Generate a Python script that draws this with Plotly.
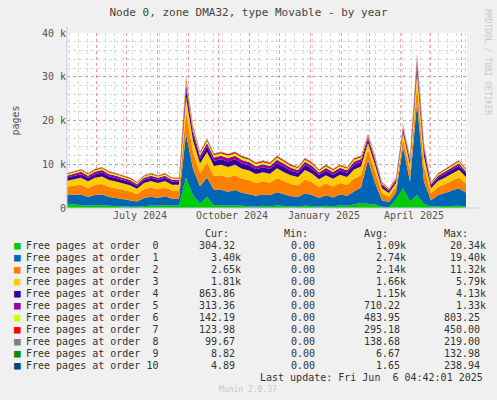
import plotly.graph_objects as go
import pandas as pd

dates = pd.date_range("2024-05-03", periods=58, freq="7D")

o0 = [1.0,0.8,0.6,0.5,0.7,0.6,0.5,0.5,0.4,0.3,0.3,0.5,0.6,0.5,0.7,0.5,0.6,7.0,3.0,1.0,2.5,0.6,0.7,0.5,0.6,0.5,0.4,0.3,0.5,0.4,0.6,0.5,0.4,0.3,0.6,0.5,0.3,0.5,0.4,0.6,0.5,0.8,1.2,1.0,0.8,0.3,0.2,2.0,4.5,1.5,3.0,1.0,0.3,0.4,0.4,0.5,0.5,0.3]
o1 = [2.0,2.2,2.5,2.0,2.3,2.5,2.0,1.8,1.6,1.5,1.2,1.8,2.0,1.8,2.0,1.6,1.5,10.0,6.0,4.0,4.5,3.5,3.5,3.2,3.5,3.0,2.8,2.5,2.6,2.5,3.0,2.6,2.3,2.2,2.8,2.5,2.0,2.4,2.0,2.5,2.3,3.0,3.5,10.0,5.0,1.5,1.2,1.5,9.5,4.5,21.0,5.0,1.5,2.5,3.0,3.5,4.0,3.2]
o2 = [1.9,2.1,2.2,2.1,2.3,2.4,2.3,2.2,2.1,2.0,1.7,2.0,2.1,2.0,2.0,1.9,1.9,5.0,3.8,3.0,3.4,3.2,3.3,3.3,3.4,3.2,3.2,2.9,3.0,2.9,3.2,3.0,2.8,2.7,3.1,2.9,2.5,2.7,2.5,2.6,2.5,2.9,2.8,2.3,2.4,1.6,1.2,1.3,1.9,2.3,4.2,3.4,1.6,1.9,2.1,2.3,2.5,2.1]
o3 = [1.35,1.5,1.6,1.5,1.6,1.7,1.6,1.55,1.5,1.4,1.2,1.4,1.45,1.4,1.45,1.3,1.3,3.5,2.7,2.2,2.4,2.3,2.4,2.4,2.4,2.3,2.2,2.1,2.1,2.05,2.3,2.1,2.0,1.9,2.2,2.0,1.8,1.9,1.8,1.9,1.8,2.1,2.0,1.6,1.7,1.1,0.85,0.95,1.35,1.6,3.0,2.4,1.1,1.4,1.5,1.6,1.75,1.5]
o4 = [0.7,0.77,0.83,0.77,0.84,0.9,0.84,0.8,0.77,0.73,0.63,0.73,0.76,0.73,0.74,0.69,0.69,1.8,1.4,1.1,1.25,1.2,1.23,1.23,1.25,1.2,1.16,1.08,1.1,1.06,1.18,1.1,1.02,0.98,1.13,1.05,0.94,1.0,0.92,0.97,0.94,1.08,1.02,0.84,0.87,0.59,0.43,0.49,0.7,0.84,1.5,1.26,0.59,0.71,0.78,0.84,0.91,0.77]
o5 = [0.45,0.5,0.53,0.5,0.54,0.58,0.54,0.51,0.5,0.47,0.4,0.47,0.49,0.47,0.48,0.44,0.44,1.17,0.9,0.72,0.81,0.76,0.79,0.79,0.8,0.77,0.75,0.69,0.71,0.68,0.76,0.71,0.66,0.63,0.73,0.68,0.6,0.64,0.59,0.62,0.6,0.69,0.66,0.54,0.56,0.38,0.28,0.32,0.45,0.54,0.99,0.81,0.38,0.46,0.5,0.54,0.59,0.5]
o6 = [0.3,0.33,0.35,0.33,0.36,0.38,0.36,0.34,0.33,0.31,0.27,0.31,0.32,0.31,0.32,0.29,0.29,0.78,0.6,0.48,0.54,0.5,0.53,0.53,0.53,0.51,0.5,0.46,0.47,0.46,0.5,0.47,0.44,0.42,0.49,0.45,0.4,0.43,0.4,0.41,0.4,0.46,0.44,0.36,0.37,0.25,0.19,0.21,0.3,0.36,0.66,0.54,0.25,0.31,0.34,0.36,0.39,0.33]
o7 = [0.18,0.19,0.21,0.19,0.21,0.22,0.21,0.2,0.19,0.18,0.16,0.18,0.19,0.18,0.19,0.17,0.17,0.45,0.35,0.28,0.32,0.29,0.31,0.31,0.31,0.3,0.29,0.27,0.28,0.27,0.29,0.28,0.26,0.25,0.28,0.26,0.23,0.25,0.23,0.24,0.23,0.27,0.26,0.21,0.22,0.15,0.11,0.12,0.18,0.21,0.39,0.32,0.15,0.18,0.2,0.21,0.23,0.19]
o8 = [0.08,0.09,0.1,0.09,0.1,0.1,0.1,0.09,0.09,0.08,0.07,0.08,0.09,0.08,0.09,0.08,0.08,0.2,0.16,0.13,0.15,0.14,0.14,0.14,0.15,0.14,0.14,0.13,0.13,0.12,0.14,0.13,0.12,0.12,0.13,0.12,0.11,0.12,0.11,0.11,0.11,0.13,0.12,0.1,0.1,0.07,0.05,0.06,0.08,0.1,0.18,0.15,0.07,0.09,0.09,0.1,0.11,0.1]
o9 = [0.01,0.0,0.01,0.0,0.01,0.0,0.0,0.01,0.0,0.0,0.0,0.01,0.0,0.0,0.01,0.0,0.0,0.13,0.03,0.01,0.02,0.01,0.0,0.01,0.0,0.01,0.0,0.0,0.01,0.0,0.01,0.0,0.0,0.0,0.01,0.0,0.0,0.01,0.0,0.0,0.0,0.01,0.01,0.02,0.01,0.0,0.0,0.01,0.03,0.01,0.05,0.01,0.0,0.0,0.01,0.01,0.01,0.01]
o10 = [0.0,0.0,0.0,0.0,0.0,0.0,0.0,0.0,0.0,0.0,0.0,0.0,0.0,0.0,0.0,0.0,0.0,0.05,0.01,0.0,0.01,0.0,0.0,0.0,0.0,0.0,0.0,0.0,0.0,0.0,0.0,0.0,0.0,0.0,0.0,0.0,0.0,0.0,0.0,0.0,0.0,0.0,0.0,0.01,0.0,0.0,0.0,0.0,0.02,0.0,0.24,0.01,0.0,0.0,0.0,0.0,0.01,0.0]

series = [o0, o1, o2, o3, o4, o5, o6, o7, o8, o9, o10]
colors = ["#00CC00", "#0066B3", "#FF8000", "#FFCC00", "#330099", "#990099",
          "#CCFF00", "#FF0000", "#808080", "#008F00", "#00487D"]
names = [f"Free pages at order {i:>2}" for i in range(11)]
cur = ["304.32 ", "3.40k", "2.65k", "1.81k", "863.86 ", "313.36 ", "142.19 ", "123.98 ", "99.67 ", "8.82 ", "4.89 "]
mins = ["0.00 "] * 11
avg = ["1.09k", "2.74k", "2.14k", "1.66k", "1.15k", "710.22 ", "483.95 ", "295.18 ", "138.68 ", "6.67 ", "1.65 "]
mx = ["20.34k", "19.40k", "11.32k", "5.79k", "4.13k", "1.33k", "803.25 ", "450.00 ", "219.00 ", "132.98 ", "238.94 "]

month_lines = pd.date_range("2024-06-01", "2025-06-01", freq="MS")
label_vals = pd.to_datetime(["2024-07-15", "2024-10-15", "2025-01-15", "2025-04-15"])
label_text = ["July 2024", "October 2024", "January 2025", "April 2025"]

MONO = "DejaVu Sans Mono"
fig = go.Figure()
for s, c, n in zip(series, colors, names):
    fig.add_trace(go.Scatter(x=dates, y=[v * 1000 for v in s], name=n, mode="lines",
                             line=dict(width=0, color=c), fillcolor=c,
                             stackgroup="one", showlegend=False))
fig.add_trace(go.Scatter(x=[dates[0]], y=[0], xaxis="x2", mode="markers",
                         marker=dict(opacity=0), showlegend=False, hoverinfo="skip"))

xr = ["2024-05-03", "2025-06-07"]
fig.update_layout(
    width=497, height=400, paper_bgcolor="#F0F0F0", plot_bgcolor="#FFFFFF",
    margin=dict(l=67, r=30, t=33, b=192, autoexpand=False),
    font=dict(family=MONO, size=10, color="#555555"),
    title=dict(text="Node 0, zone DMA32, type Movable - by year", x=0.5, xanchor="center",
               y=0.97, yanchor="middle", font=dict(family=MONO, size=11, color="#444")),
    xaxis=dict(range=xr, tickvals=list(month_lines), ticktext=[""] * len(month_lines),
               showgrid=True, gridcolor="rgba(240,120,120,0.7)", griddash="dot", gridwidth=1,
               ticks="", zeroline=False, automargin=False,
               minor=dict(dtick=9 * 86400000, tick0="2024-05-05", showgrid=True,
                          gridcolor="rgba(190,190,190,0.6)", griddash="dot")),
    xaxis2=dict(range=xr, overlaying="x", side="bottom", tickvals=list(label_vals),
                ticktext=label_text, showgrid=False, ticks="", zeroline=False, automargin=False,
                tickfont=dict(family=MONO, size=10, color="#555")),
    yaxis=dict(range=[0, 40000], tickvals=[0, 10000, 20000, 30000, 40000],
               ticktext=["0", "10 k", "20 k", "30 k", "40 k"], showgrid=True,
               gridcolor="rgba(240,120,120,0.7)", griddash="dot", zeroline=False, ticks="",
               automargin=False,
               minor=dict(dtick=2000, showgrid=True, gridcolor="rgba(190,190,190,0.6)", griddash="dot"),
               title=dict(text="pages", font=dict(family=MONO, size=10, color="#555"), standoff=20)),
)
fig.add_shape(type="line", xref="paper", yref="paper", x0=0, x1=1.03, y0=0, y1=0,
              line=dict(color="#C8C8F0", width=1))
fig.add_shape(type="line", xref="paper", yref="paper", x0=0, x1=0, y0=0, y1=1.04,
              line=dict(color="#C8C8F0", width=1))

ann = []
y0 = 245
for i in range(11):
    y = y0 + 12 * i
    ann.append(dict(x=17, y=y, text="■", font=dict(color=colors[i], size=11)))
    ann.append(dict(x=24, y=y, text=names[i], xanchor="left"))
    ann.append(dict(x=243, y=y, text=cur[i], xanchor="right"))
    ann.append(dict(x=323, y=y, text=mins[i], xanchor="right"))
    ann.append(dict(x=408, y=y, text=avg[i], xanchor="right"))
    ann.append(dict(x=488, y=y, text=mx[i], xanchor="right"))
for x, t in [(231, "Cur:"), (310, "Min:"), (390, "Avg:"), (470, "Max:")]:
    ann.append(dict(x=x, y=233, text=t, xanchor="right"))
ann.append(dict(x=485, y=377, text="Last update: Fri Jun  6 04:42:01 2025", xanchor="right"))
ann.append(dict(x=248, y=389, text="Munin 2.0.37", font=dict(size=8, color="#C8C8C8")))
ann.append(dict(x=488, y=62, text="RRDTOOL / TOBI OETIKER", textangle=90,
                font=dict(size=8, color="#C8C8C8")))
for a in ann:
    a.setdefault("xanchor", "center")
    a.setdefault("font", dict(family=MONO, size=10, color="#333"))
    a["font"].setdefault("family", MONO)
    a.update(xref="paper", yref="paper", showarrow=False, yanchor="middle")
    a["x"] = (a["x"] - 67) / 400
    a["y"] = (208 - a["y"]) / 175
fig.update_layout(annotations=ann)
fig.write_html("out.html", config={"displayModeBar": False},
               post_script="document.body.style.margin='0';")
